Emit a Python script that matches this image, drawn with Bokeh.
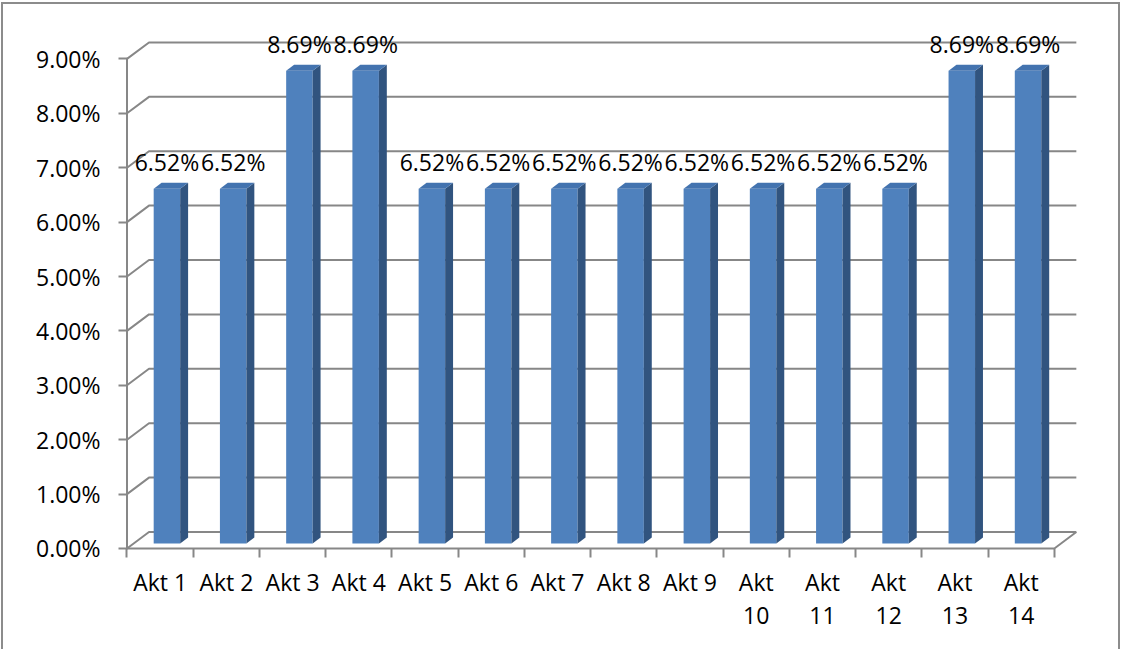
from bokeh.plotting import figure
from bokeh.models import FixedTicker, Range1d, CustomJSTickFormatter, ColumnDataSource
from bokeh.embed import file_html
from bokeh.resources import INLINE
from bokeh.core.properties import value

# ---- data ----
categories = ["Akt 1", "Akt 2", "Akt 3", "Akt 4", "Akt 5", "Akt 6", "Akt 7",
              "Akt 8", "Akt 9", "Akt\n10", "Akt\n11", "Akt\n12", "Akt\n13", "Akt\n14"]
values = [6.52, 6.52, 8.69, 8.69, 6.52, 6.52, 6.52,
          6.52, 6.52, 6.52, 6.52, 6.52, 8.69, 8.69]
y_ticks = [0, 1, 2, 3, 4, 5, 6, 7, 8, 9]
value_labels = [f"{v:.2f}%" for v in values]

# ---- pseudo-3D geometry (style) ----
DX = 0.332   # depth offset in category units
DY = 0.303   # depth offset in percent units
F1, F2 = 0.31, 0.67   # bar front / back depth fraction
HALF_W = 0.20

FONT = "Open Sans"
FS = "23px"
GRID = "#878787"
FRONT = "#4F81BD"
SIDE = "#31547F"
TOP = "#4373AF"
BORDER = "2px solid #8c8c8c"

n = len(categories)
ymax = max(y_ticks)

p = figure(width=1119, height=647, output_backend="svg", toolbar_location=None,
           x_range=Range1d(-0.0377, 14.576), y_range=Range1d(-0.0368, 9.559),
           min_border_left=121, min_border_right=30, min_border_top=24, min_border_bottom=101)
p.margin = (2, 0, 0, 1)
p.styles = {"border-top": BORDER, "border-left": BORDER, "border-right": BORDER}
p.grid.visible = False
p.outline_line_color = None
p.background_fill_color = "white"
p.border_fill_color = "white"

# back wall gridlines + diagonals to the front axis
gx, gy = [], []
for t in y_ticks:
    gx.append([0, DX, n + DX])
    gy.append([t, t + DY, t + DY])
p.multi_line(gx, gy, line_color=GRID, line_width=2)
# floor front edge and right diagonal
p.multi_line([[0, n, n + DX]], [[0, 0, DY]], line_color=GRID, line_width=2)
# front vertical axis line
p.multi_line([[0, 0]], [[0, ymax]], line_color=GRID, line_width=2)

# bars
cx = [i + 0.5 + F1 * DX for i in range(n)]
L = [c - HALF_W for c in cx]
R = [c + HALF_W for c in cx]
b0 = F1 * DY
tops = [v + b0 for v in values]
ddx = (F2 - F1) * DX
ddy = (F2 - F1) * DY

side_xs = [[r, r + ddx, r + ddx, r] for r in R]
side_ys = [[b0, b0 + ddy, t + ddy, t] for t in tops]
top_xs = [[l, r, r + ddx, l + ddx] for l, r in zip(L, R)]
top_ys = [[t, t, t + ddy, t + ddy] for t in tops]

p.quad(left=L, right=R, bottom=[b0] * n, top=tops, fill_color=FRONT, line_color=None)
p.patches(side_xs, side_ys, fill_color=SIDE, line_color=None)
p.patches(top_xs, top_ys, fill_color=TOP, line_color=None)

# value labels
src = ColumnDataSource(dict(x=cx, y=[v + F2 * DY for v in values], t=value_labels))
p.text(x="x", y="y", text="t", source=src, text_align="center", text_baseline="alphabetic",
       y_offset=-21, text_font=value(FONT), text_font_size=FS, text_color="black")

# y axis
ya = p.yaxis[0]
ya.ticker = FixedTicker(ticks=y_ticks)
ya.formatter = CustomJSTickFormatter(code="return tick.toFixed(2) + '%';")
ya.axis_line_color = None
ya.major_tick_line_color = GRID
ya.major_tick_line_width = 2
ya.major_tick_in = 3
ya.major_tick_out = 6
ya.minor_tick_line_color = None
ya.major_label_standoff = 18
ya.major_label_text_font = FONT
ya.major_label_text_font_size = FS
ya.major_label_text_color = "black"

# x axis
xa = p.xaxis[0]
xa.ticker = FixedTicker(ticks=[i + 0.5 for i in range(n)], minor_ticks=list(range(n + 1)))
xa.formatter = CustomJSTickFormatter(args=dict(labs=categories),
                                     code="return labs[Math.round(tick - 0.5)];")
xa.axis_line_color = None
xa.major_tick_line_color = None
xa.major_tick_in = 0
xa.major_tick_out = 0
xa.minor_tick_line_color = GRID
xa.minor_tick_line_width = 2
xa.minor_tick_in = 2
xa.minor_tick_out = 7
xa.major_label_standoff = 8
xa.major_label_text_font = FONT
xa.major_label_text_font_size = FS
xa.major_label_text_line_height = 1.05
xa.major_label_text_color = "black"

open("out.html", "w").write(file_html(p, INLINE))
